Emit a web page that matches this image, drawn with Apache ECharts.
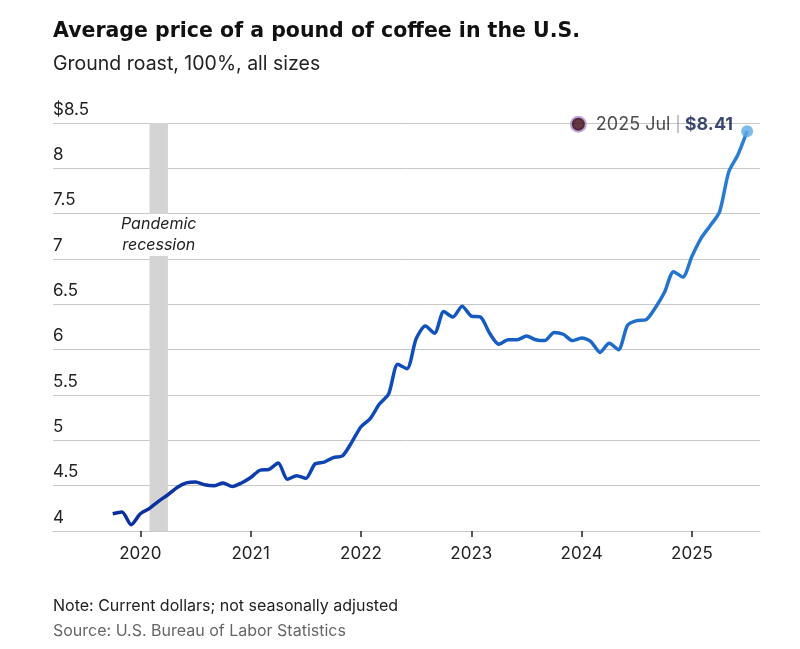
<!DOCTYPE html>
<html>
<head>
<meta charset="utf-8">
<script src="https://cdn.jsdelivr.net/npm/echarts@6.0.0/dist/echarts.min.js"></script>
<style>
  html, body { margin: 0; padding: 0; background: #fff; }
  #chart-container { width: 800px; height: 649px; }
</style>
</head>
<body>
<div id="chart-container"></div>
<script>
// monthly categories, Oct 2019 .. Jul 2025
const startYear = 2019, startMonth = 10, monthCount = 70;
const months = [];
for (let i = 0; i < monthCount; i++) {
  const t = startYear * 12 + (startMonth - 1) + i;
  months.push(Math.floor(t / 12) + "-" + String((t % 12) + 1).padStart(2, "0"));
}

// average price, $ per pound
const prices = [
  4.19, 4.21, 4.07,
  4.19, 4.25, 4.33, 4.40, 4.48, 4.53, 4.54, 4.51, 4.50, 4.53, 4.49, 4.53,
  4.59, 4.67, 4.68, 4.75, 4.57, 4.61, 4.58, 4.74, 4.76, 4.81, 4.83, 4.98,
  5.15, 5.24, 5.40, 5.51, 5.84, 5.79, 6.12, 6.26, 6.18, 6.42, 6.36, 6.48,
  6.37, 6.36, 6.18, 6.06, 6.11, 6.11, 6.15, 6.11, 6.10, 6.19, 6.17, 6.10,
  6.13, 6.09, 5.97, 6.07, 6.00, 6.27, 6.32, 6.33, 6.46, 6.63, 6.86, 6.80,
  7.03, 7.23, 7.37, 7.52, 7.96, 8.15, 8.41
];

const yearTicks = ["2020-01", "2021-01", "2022-01", "2023-01", "2024-01", "2025-01"];
const recession = ["2020-02", "2020-04"];
const monthNames = ["Jan", "Feb", "Mar", "Apr", "May", "Jun", "Jul", "Aug", "Sep", "Oct", "Nov", "Dec"];

// months since Jan 2020, used as the x value
const toIdx = (s) => (Number(s.slice(0, 4)) - 2020) * 12 + Number(s.slice(5, 7)) - 1;

(() => {
  const font = "Inter";
  const titleFont = "DejaVu Sans";
  const dom = document.getElementById("chart-container");
  const chart = echarts.init(dom, null, { renderer: "canvas" });

  const lineData = months.map((m, i) => [toIdx(m), prices[i]]);
  const last = months[months.length - 1];
  const lastLabel = last.slice(0, 4) + " " + monthNames[Number(last.slice(5, 7)) - 1];
  const lastValue = prices[prices.length - 1];

  const option = {
    animation: false,
    textStyle: { fontFamily: font },
    title: [
      {
        left: 53,
        top: 21,
        padding: 0,
        text: "Average price of a pound of coffee in the U.S.",
        subtext: "Ground roast, 100%, all sizes",
        itemGap: 12,
        textStyle: { fontFamily: titleFont, fontSize: 20.5, fontWeight: "bold", color: "#111" },
        subtextStyle: { fontFamily: font, fontSize: 19.5, color: "#222" },
      },
      {
        left: 53,
        top: 598,
        padding: 0,
        text: "Note: Current dollars; not seasonally adjusted",
        subtext: "Source: U.S. Bureau of Labor Statistics",
        itemGap: 9,
        textStyle: { fontFamily: font, fontSize: 16, fontWeight: "normal", color: "#222" },
        subtextStyle: { fontFamily: font, fontSize: 16, color: "#666" },
      },
    ],
    grid: { left: 53, right: 40, top: 123, bottom: 118, containLabel: false },
    xAxis: {
      type: "value",
      min: -9.5,
      max: 67.4,
      splitLine: { show: false },
      axisLine: { show: true, lineStyle: { color: "#c8c8c8", width: 1 } },
      axisTick: {
        show: true,
        customValues: yearTicks.map(toIdx),
        length: 6,
        lineStyle: { color: "#222", width: 1.5 },
      },
      axisLabel: {
        customValues: yearTicks.map(toIdx),
        formatter: (v) => String(2020 + Math.round(v / 12)),
        fontFamily: font,
        fontSize: 17,
        color: "#222",
        margin: 14,
      },
    },
    yAxis: {
      type: "value",
      min: 4,
      max: 8.5,
      interval: 0.5,
      axisLine: { show: false },
      axisTick: { show: false },
      splitLine: { lineStyle: { color: "#c8c8c8", width: 1 } },
      axisLabel: {
        inside: true,
        margin: 0,
        align: "left",
        verticalAlign: "bottom",
        padding: [0, 0, 5, 0],
        fontFamily: font,
        fontSize: 17,
        color: "#222",
        formatter: (v) => (v === 8.5 ? "$" + v : String(v)),
      },
    },
    series: [
      {
        name: "Price",
        type: "line",
        data: lineData,
        smooth: 0.25,
        symbol: "none",
        z: 3,
        lineStyle: {
          width: 3.5,
          color: new echarts.graphic.LinearGradient(0, 0, 1, 0, [
            { offset: 0, color: "#0a2c9c" },
            { offset: 0.5, color: "#0f52bd" },
            { offset: 1, color: "#2a7fd4" },
          ]),
        },
        markArea: {
          silent: true,
          z: 1,
          itemStyle: { color: "#d4d4d4" },
          label: {
            show: true,
            position: "insideTop",
            distance: 91,
            formatter: "Pandemic\nrecession",
            fontFamily: font,
            fontStyle: "italic",
            fontSize: 16,
            lineHeight: 21,
            color: "#222",
            backgroundColor: "#fff",
            padding: [0, 2],
          },
          data: [[{ xAxis: toIdx(recession[0]) }, { xAxis: toIdx(recession[1]) }]],
        },
      },
      {
        name: "Latest",
        type: "scatter",
        z: 4,
        data: [[toIdx(last), lastValue]],
        symbolSize: 12,
        itemStyle: { color: "#5ea9e2" },
        label: {
          show: true,
          position: "left",
          distance: 8,
          offset: [0, -7],
          formatter: `{dot|}{t|${lastLabel} }{sep||}{b| $${lastValue.toFixed(2)}}`,
          rich: {
            dot: {
              width: 13,
              height: 13,
              borderRadius: 8,
              backgroundColor: "#3e0810",
              borderColor: "#a993cf",
              borderWidth: 2,
            },
            t: { fontFamily: font, fontSize: 18, color: "#222", padding: [0, 0, 0, 11] },
            sep: { fontFamily: font, fontSize: 15, color: "#888" },
            b: { fontFamily: font, fontSize: 18, fontWeight: "bold", color: "#0d1a4a" },
          },
        },
      },
    ],
  };

  chart.setOption(option);
  window.addEventListener("resize", chart.resize);
})();
</script>
</body>
</html>
